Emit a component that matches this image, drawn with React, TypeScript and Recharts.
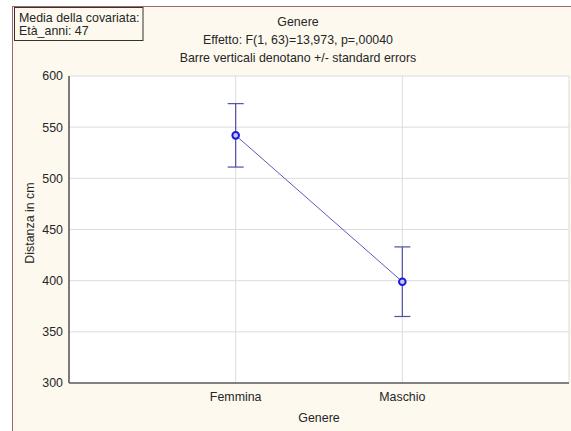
import React from 'react';
import { ComposedChart, Line, XAxis, YAxis, CartesianGrid, ErrorBar } from 'recharts';

const categories = ['Femmina', 'Maschio'];
const categoryPositions = [1, 2];
const means = [542, 399];
const stdErrors = [31, 34];
const yTicks = [300, 350, 400, 450, 500, 550, 600];

const data = categories.map((c, i) => ({ x: categoryPositions[i], y: means[i], err: stdErrors[i] }));

const FONT = '"Liberation Sans", Arial, sans-serif';
const TXT = '#262626';
const FS = 12.4;

const Dot = (props: any) => {
  const { cx, cy } = props;
  return <circle cx={cx} cy={cy} r={3.3} fill="#c8c8ff" stroke="#1a1ad8" strokeWidth={2} />;
};

export default function App() {
  return (
    <div style={{ position: 'absolute', left: 0, top: 0, width: 571, height: 431, background: '#ffffff', overflow: 'hidden', fontFamily: FONT }}>
      <div style={{ position: 'absolute', left: 12, top: 6, width: 571, height: 431, background: '#fdf9ef', borderLeft: '1.5px solid #a8646c', borderTop: '1.5px solid #a8646c' }} />
      <div style={{ position: 'absolute', left: 0, top: 0 }}>
        <ComposedChart width={571} height={431} data={data} margin={{ top: 76, right: 2, left: 0, bottom: 0 }}>
          <CartesianGrid fill="#ffffff" stroke="#dcdcdc" strokeWidth={1} />
          <XAxis
            xAxisId="top"
            orientation="top"
            type="number"
            dataKey="x"
            domain={[0, 3]}
            ticks={[]}
            height={0}
            axisLine={{ stroke: '#5e5e5e', strokeWidth: 1.6 }}
            tickLine={false}
          />
          <YAxis
            yAxisId="right"
            orientation="right"
            domain={[300, 600]}
            ticks={[]}
            width={0}
            axisLine={{ stroke: '#5e5e5e', strokeWidth: 1.6 }}
            tickLine={false}
          />
          <XAxis
            type="number"
            dataKey="x"
            domain={[0, 3]}
            ticks={categoryPositions}
            tickFormatter={(v: number) => categories[categoryPositions.indexOf(v)] ?? ''}
            height={48}
            tickSize={0}
            tickMargin={9}
            axisLine={{ stroke: '#5e5e5e', strokeWidth: 1.6 }}
            tickLine={false}
            tick={{ fontSize: FS, fill: TXT, fontFamily: FONT }}
          />
          <YAxis
            domain={[300, 600]}
            ticks={yTicks}
            width={69}
            tickSize={0}
            tickMargin={6}
            axisLine={{ stroke: '#5e5e5e', strokeWidth: 1.6 }}
            tickLine={false}
            tick={{ fontSize: FS, fill: TXT, fontFamily: FONT }}
            interval={0}
          />
          <Line
            type="linear"
            dataKey="y"
            stroke="#5a5ac0"
            strokeWidth={1}
            dot={<Dot />}
            activeDot={false}
            isAnimationActive={false}
          >
            <ErrorBar dataKey="err" direction="y" width={8} stroke="#5050a8" strokeWidth={1.2} isAnimationActive={false} />
          </Line>
        </ComposedChart>
      </div>
      <svg width={571} height={431} style={{ position: 'absolute', left: 0, top: 0, pointerEvents: 'none' }}>
        <g fontFamily={FONT} fontSize={FS} fill={TXT}>
          <rect x={14.5} y={7.5} width={128.5} height={33} fill="#fdf9ef" stroke="#333333" strokeWidth={1} />
          <text x={19} y={21.5}>Media della covariata:</text>
          <text x={19} y={35}>Età_anni: 47</text>
          <text x={298} y={26} textAnchor="middle">Genere</text>
          <text x={298} y={44} textAnchor="middle">Effetto: F(1, 63)=13,973, p=,00040</text>
          <text x={298} y={62} textAnchor="middle">Barre verticali denotano +/- standard errors</text>
          <text x={319} y={421.5} textAnchor="middle">Genere</text>
          <text x={0} y={0} textAnchor="middle" transform="translate(33.5,223) rotate(-90)">Distanza in cm</text>
        </g>
      </svg>
    </div>
  );
}
